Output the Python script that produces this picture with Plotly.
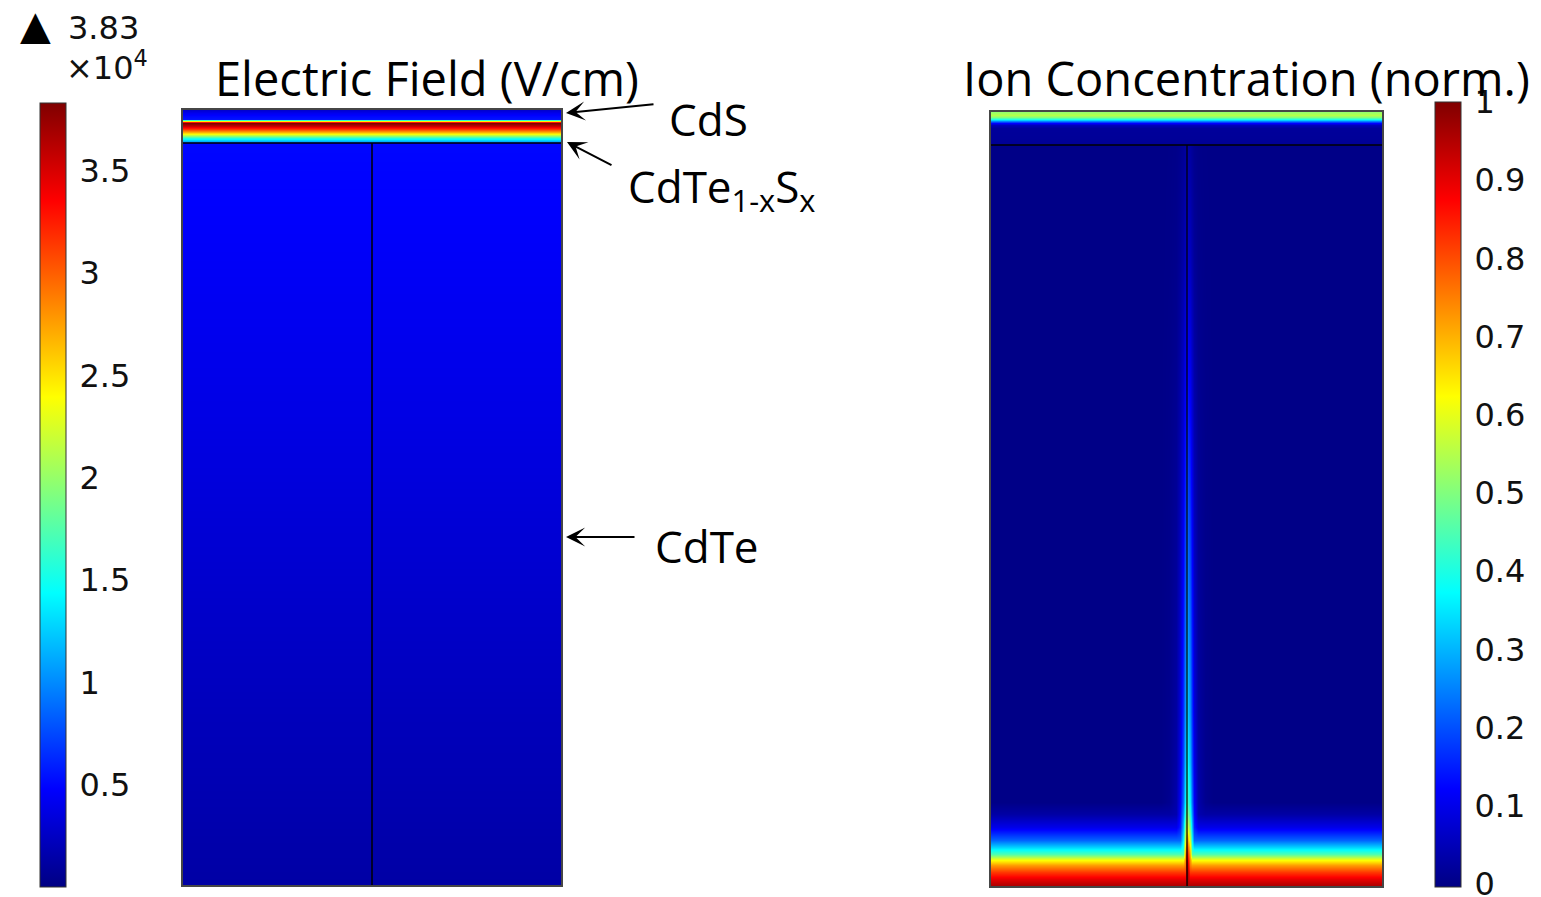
import numpy as np
import plotly.graph_objects as go

W, H = 1541, 897

# ---------------- Electric field panel (values in 1e4 V/cm) ----------------
ef_width = 378.0
ef_depth = [0, 3, 6, 8.5, 10, 11.5, 13, 16, 19, 22, 24, 26, 28, 30.5, 32.4,
            33.4, 150, 300, 450, 600, 700, 775]
ef_value = [0.30, 0.42, 0.50, 0.55, 1.60, 3.30, 3.83, 3.55, 3.15, 2.70, 2.35,
            1.95, 1.55, 1.15, 0.95, 0.50, 0.45, 0.38, 0.30, 0.22, 0.17, 0.13]
ef_x = [0.0, ef_width]
ef_min, ef_max = 0.0, 3.831
ef_ticks = [0.5, 1, 1.5, 2, 2.5, 3, 3.5]

# ---------------- Ion concentration panel (normalised) ----------------
ic_width = 391.0
ic_depth = [0, 3, 5, 7, 9, 11, 13, 16, 32.4, 33.4, 150, 300, 400, 500, 600,
            650, 690, 702, 715, 728, 735, 742, 747, 753, 760, 767, 774]
ic_base = [0.52, 0.55, 0.50, 0.40, 0.25, 0.12, 0.05, 0.02, 0.015,
           0, 0, 0, 0, 0, 0, 0, 0,
           0.03, 0.10, 0.22, 0.33, 0.45, 0.60, 0.72, 0.82, 0.90, 0.96]
ic_spike_amp = [0, 0, 0, 0, 0, 0, 0, 0, 0,
                0.03, 0.07, 0.15, 0.21, 0.27, 0.33, 0.38, 0.45, 0.51, 0.60,
                0.72, 0.80, 0.86, 0.90, 0.94, 0.97, 0.99, 1.0]
ic_x = [0, 100, 170, 178, 185, 189, 191.5, 193.5, 195, 196, 197, 198.5, 200.5,
        203, 207, 214, 222, 290, 391]
ic_spike_shape = [0, 0, 0, 0.02, 0.08, 0.25, 0.50, 0.80, 0.95, 1.0, 0.95, 0.80,
                  0.50, 0.25, 0.08, 0.02, 0, 0, 0]
ic_min, ic_max = -0.004, 1.0
ic_ticks = [0, 0.1, 0.2, 0.3, 0.4, 0.5, 0.6, 0.7, 0.8, 0.9, 1]

interface_depth = 32.9
grain_boundary_x_ef = 189.0
grain_boundary_x_ic = 196.0

# ---------------- tables ----------------
ef_z = np.repeat(np.array(ef_value)[:, None], len(ef_x), axis=1)
ic_z = np.maximum(np.array(ic_base)[:, None],
                  np.array(ic_spike_amp)[:, None] * np.array(ic_spike_shape)[None, :])

jet = [[0.0, 'rgb(0,0,131)'], [0.125, 'rgb(0,0,255)'], [0.375, 'rgb(0,255,255)'],
       [0.625, 'rgb(255,255,0)'], [0.875, 'rgb(255,0,0)'], [1.0, 'rgb(128,0,0)']]

tickfont = dict(family='DejaVu Sans', size=32, color='#111')
titlefont = dict(family='Open Sans', size=47, color='black')
textfont = dict(family='Open Sans', size=44, color='black')


def px(x):
    return x / W


def py(y):
    return 1 - y / H


def cbar(xleft, ytop, length, tickvals):
    return dict(x=px(xleft), xanchor='left', y=py(ytop), yanchor='top',
                len=length, lenmode='pixels', thickness=26, thicknessmode='pixels',
                xpad=0, ypad=0, outlinewidth=1, outlinecolor='#333',
                tickvals=tickvals, ticktext=[('%g' % v) for v in tickvals],
                ticks='outside', ticklen=7, tickcolor='rgba(0,0,0,0)',
                ticklabeloverflow='allow', tickfont=tickfont)


fig = go.Figure()
fig.add_trace(go.Heatmap(x=ef_x, y=ef_depth, z=ef_z, zsmooth='best',
                         colorscale=jet, zmin=ef_min, zmax=ef_max,
                         colorbar=cbar(40, 103, 784, ef_ticks),
                         xaxis='x', yaxis='y', hoverinfo='skip'))
fig.add_trace(go.Heatmap(x=ic_x, y=ic_depth, z=ic_z, zsmooth='best',
                         colorscale=jet, zmin=ic_min, zmax=ic_max,
                         colorbar=cbar(1435, 102, 785, ic_ticks),
                         xaxis='x2', yaxis='y2', hoverinfo='skip'))

axis_common = dict(showgrid=False, zeroline=False, showticklabels=False, ticks='',
                   showline=True, mirror=True, linecolor='rgb(70,70,70)', linewidth=1.5)

fig.update_layout(
    width=W, height=H, margin=dict(l=0, r=0, t=0, b=0),
    paper_bgcolor='white', plot_bgcolor='white', showlegend=False,
    xaxis=dict(domain=[px(183), px(561)], range=[0, ef_width], **axis_common),
    yaxis=dict(domain=[py(885), py(110)], range=[ef_depth[-1], 0], **axis_common),
    xaxis2=dict(domain=[px(991), px(1382)], range=[0, ic_width], anchor='y2', **axis_common),
    yaxis2=dict(domain=[py(886), py(112)], range=[ic_depth[-1], 0], anchor='x2', **axis_common),
)

line_style = dict(color='black', width=1.5)
thin_line = dict(color='black', width=1.2)
fig.add_shape(type='line', xref='x', yref='y', x0=0, x1=ef_width,
              y0=interface_depth, y1=interface_depth, line=line_style)
fig.add_shape(type='line', xref='x', yref='y', x0=grain_boundary_x_ef, x1=grain_boundary_x_ef,
              y0=interface_depth, y1=ef_depth[-1], line=line_style)
fig.add_shape(type='line', xref='x2', yref='y2', x0=0, x1=ic_width,
              y0=interface_depth, y1=interface_depth, line=line_style)
fig.add_shape(type='line', xref='x2', yref='y2', x0=grain_boundary_x_ic, x1=grain_boundary_x_ic,
              y0=interface_depth, y1=ic_depth[-1], line=thin_line)

ann = []
ann.append(dict(text='Electric Field (V/cm)', x=px(427), y=py(78), xanchor='center',
                yanchor='middle', font=titlefont))
ann.append(dict(text='Ion Concentration (norm.)', x=px(1246), y=py(78), xanchor='center',
                yanchor='middle', font=titlefont))
ann.append(dict(text='CdS', x=px(667), y=py(119), xanchor='left', yanchor='middle', font=textfont))
ann.append(dict(text='CdTe<sub>1-x</sub>S<sub>x</sub>', x=px(626), y=py(188), xanchor='left',
                yanchor='middle', font=textfont))
ann.append(dict(text='CdTe', x=px(653), y=py(546), xanchor='left', yanchor='middle', font=textfont))
ann.append(dict(text='▲', x=px(35), y=py(25), xanchor='center', yanchor='middle',
                font=dict(family='DejaVu Sans', size=40, color='black')))
ann.append(dict(text='3.83', x=px(66), y=py(28), xanchor='left', yanchor='middle', font=tickfont))
ann.append(dict(text='×10<sup>4</sup>', x=px(64), y=py(66), xanchor='left', yanchor='middle',
                font=tickfont))

# arrows: (head x, head y, tail x, tail y) in page pixels
arrows = [(566, 113, 655, 104), (567, 142, 613, 166), (566, 537, 636, 537)]
for hx, hy, tx, ty in arrows:
    ann.append(dict(text='', x=px(hx), y=py(hy), xref='paper', yref='paper',
                    ax=tx - hx, ay=ty - hy, showarrow=True, arrowhead=3,
                    arrowsize=1.6, arrowwidth=2, arrowcolor='black'))

for a in ann:
    a.setdefault('xref', 'paper')
    a.setdefault('yref', 'paper')
    a.setdefault('showarrow', False)
fig.update_layout(annotations=ann)

fig.write_html('out.html')
